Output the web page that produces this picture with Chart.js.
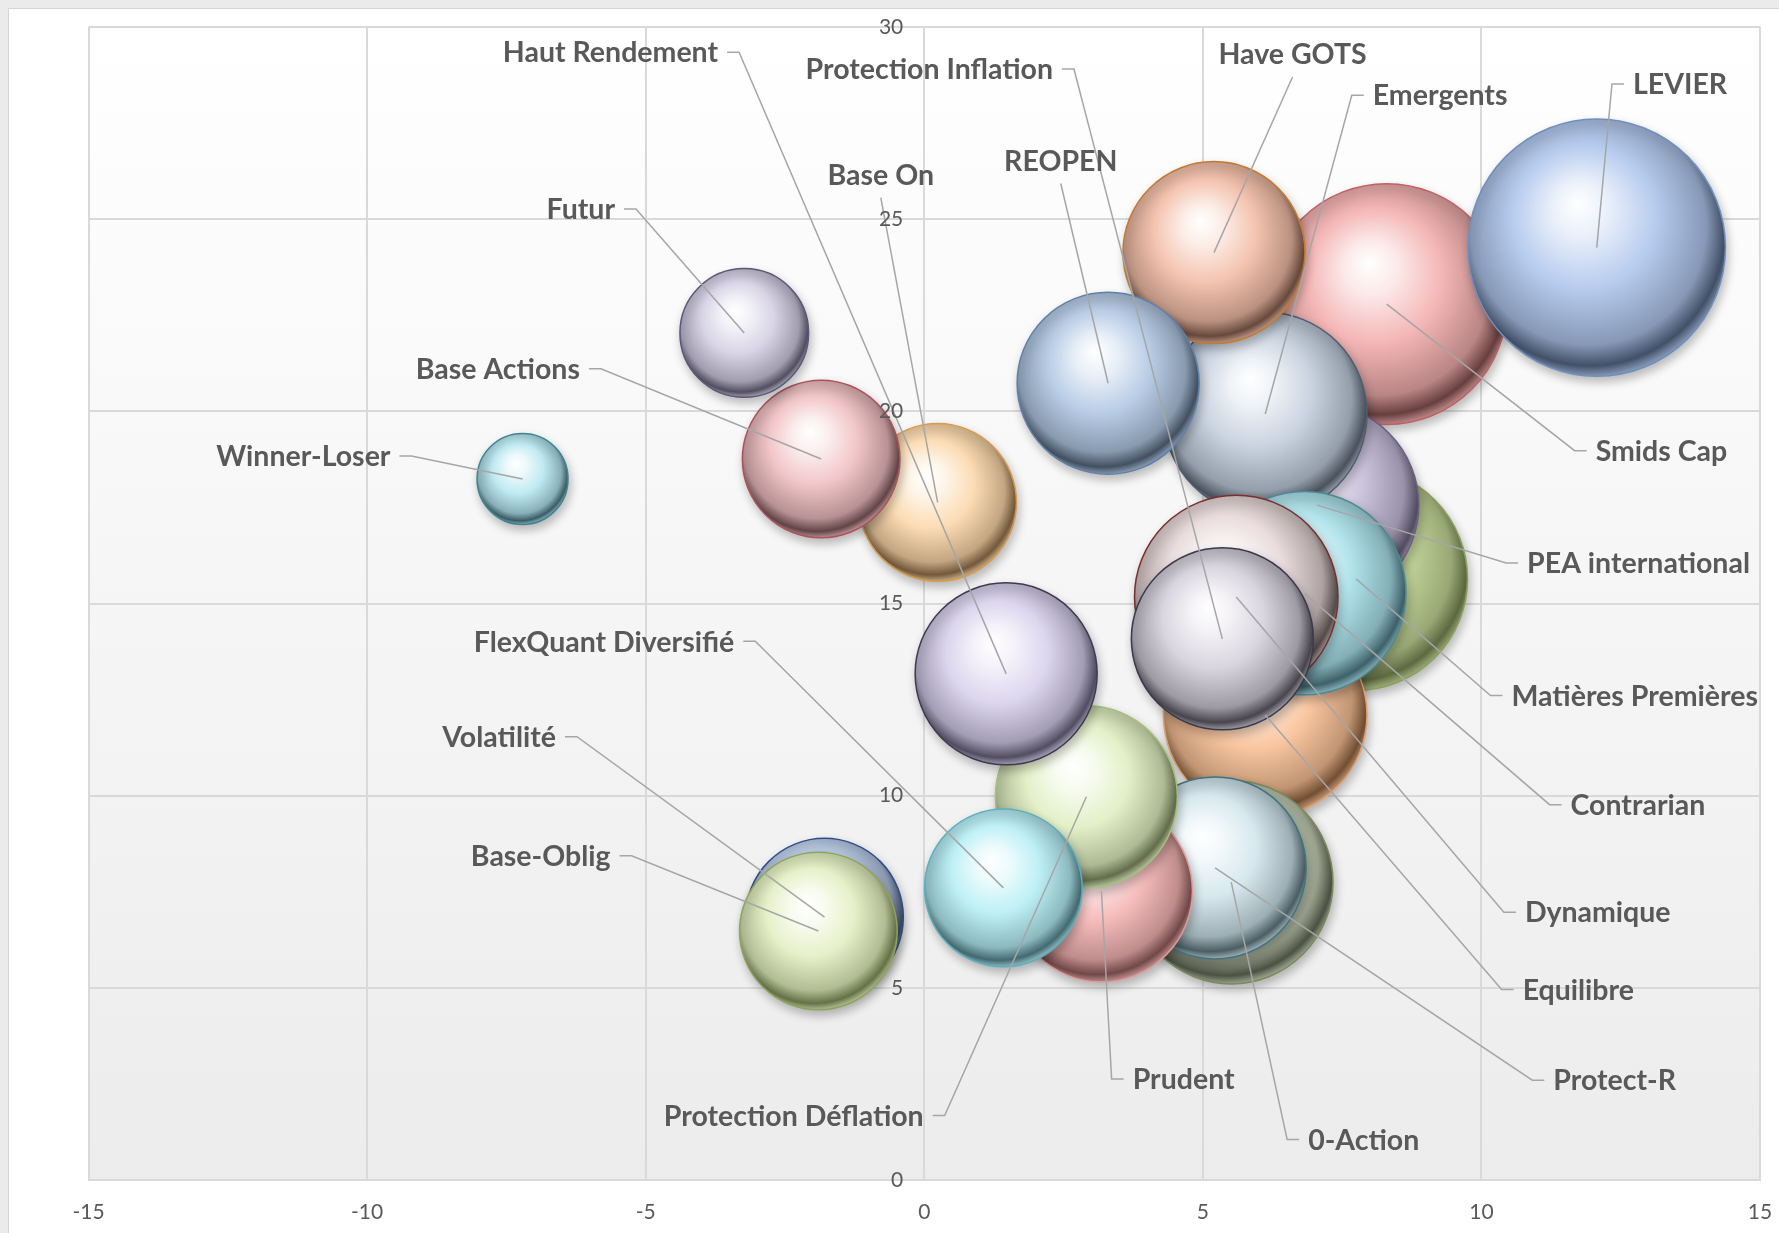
<!DOCTYPE html>
<html><head><meta charset="utf-8">
<script src="https://cdn.jsdelivr.net/npm/chart.js@4.4.1/dist/chart.umd.min.js"></script>
<style>
html,body{margin:0;padding:0;background:#fff;overflow:hidden}
canvas{display:block}
</style></head>
<body>
<canvas id="c" width="1779" height="1233"></canvas>
<script>
// ---------- DATA ----------
const names = ['Smids Cap','LEVIER','Matières Premières','PEA international','Emergents','Have GOTS','REOPEN',
  'Equilibre','Contrarian','Dynamique','Protection Inflation','0-Action','Protect-R','Prudent',
  'Protection Déflation','Haut Rendement','FlexQuant Diversifié','Base On','Base Actions','Futur',
  'Winner-Loser','Volatilité','Base-Oblig'];
const xValues = [8.30, 12.07, 7.75, 7.05, 6.12, 5.20, 3.30,
  6.12, 6.82, 5.60, 5.35, 5.51, 5.22, 3.18,
  2.91, 1.47, 1.42, 0.24, -1.85, -3.23,
  -7.21, -1.79, -1.90];
const yValues = [22.79, 24.26, 15.64, 17.56, 19.93, 24.13, 20.73,
  12.10, 15.27, 15.17, 14.08, 7.75, 8.12, 7.52,
  9.97, 13.17, 7.60, 17.63, 18.76, 22.04,
  18.24, 6.84, 6.48];
const bubbleSizes = [7, 8, 6, 5, 5, 4, 4,
  5, 5, 5, 4, 5, 4, 4,
  4, 4, 3, 3, 3, 2,
  1, 3, 3];
const xTicks = [-15, -10, -5, 0, 5, 10, 15];
const yTicks = [0, 5, 10, 15, 20, 25, 30];

// ---------- STYLE ----------
const BUBBLE_PX = 45.5;
const baseColors = ['#f4b6b6','#b6cbee','#c3d69b','#cbc2dc','#c9d3e0','#f4c4b0','#b9cde6',
  '#f9c6a0','#b2e4ec','#eadcdc','#d9d5df','#d3dcc4','#d6e8ee','#f6bcbc',
  '#e3f0c8','#dcd5ee','#bdf0f6','#fcdcb4','#f2c6c8','#d8d4e6',
  '#bfeaf2','#c6d6ee','#e6f0c8'];
const darkColors = ['#4e2a2a','#2d3a4f','#4b5630','#3f3a4c','#323b46','#4e3327','#2e3a4a',
  '#5a3a20','#2b4a52','#3d3232','#2e2c36','#343a2c','#33464c','#5a3434',
  '#4c5636','#3a3648','#2f5258','#5a4226','#4a2e30','#3a384a',
  '#24454c','#26324a','#4e5a30'];
const borderColors = ['#c06060','#6f8fc0','#8aa05a','#6c5f87','#4f5d70','#c47a2e','#5f80ad',
  '#e0a070','#4d8a96','#7b2e2e','#3b3a4d','#7a8a5a','#3c7482','#e29a9a',
  '#a6bf7a','#3d3a52','#5ab0c0','#d99a4a','#b0505a','#585878',
  '#3d8596','#2f4f8a','#8ea458'];

// label placement (in chart value coordinates) : name, x, y, side of text
const labelLayout = [
  ['Haut Rendement', -3.70, 29.32, 'right'],
  ['Protection Inflation', 2.31, 28.88, 'right'],
  ['Futur', -5.55, 25.24, 'right'],
  ['Base Actions', -6.18, 21.08, 'right'],
  ['Winner-Loser', -9.58, 18.81, 'right'],
  ['FlexQuant Diversifié', -3.41, 13.99, 'right'],
  ['Volatilité', -6.61, 11.51, 'right'],
  ['Base-Oblig', -5.63, 8.41, 'right'],
  ['Protection Déflation', -0.01, 1.65, 'right'],
  ['LEVIER', 12.72, 28.49, 'left'],
  ['Emergents', 8.05, 28.20, 'left'],
  ['Smids Cap', 12.05, 18.95, 'left'],
  ['PEA international', 10.82, 16.03, 'left'],
  ['Matières Premières', 10.54, 12.58, 'left'],
  ['Contrarian', 11.60, 9.74, 'left'],
  ['Dynamique', 10.78, 6.94, 'left'],
  ['Equilibre', 10.74, 4.93, 'left'],
  ['Protect-R', 11.29, 2.57, 'left'],
  ['Prudent', 3.74, 2.60, 'left'],
  ['0-Action', 6.89, 1.03, 'left'],
  ['Have GOTS', 6.61, 29.27, 'center'],
  ['REOPEN', 2.45, 26.50, 'center'],
  ['Base On', -0.78, 26.13, 'center']
];

// desired plot rectangle in the 1779x1233 page
const targetArea = {left: 88.5, top: 27, right: 1760, bottom: 1180};

function hexToRgb(h){h=h.replace('#','');return [parseInt(h.substr(0,2),16),parseInt(h.substr(2,2),16),parseInt(h.substr(4,2),16)];}
function mix(a,b,t){const A=hexToRgb(a),B=hexToRgb(b);return 'rgb('+A.map((v,k)=>Math.round(v+(B[k]-v)*t)).join(',')+')';}

function sphereFill(c){
  const i = c.dataIndex, chart = c.chart;
  if (i === undefined || !chart.chartArea || !chart.scales.x) return baseColors[i] || '#ccc';
  const x = chart.scales.x.getPixelForValue(xValues[i]);
  const y = chart.scales.y.getPixelForValue(yValues[i]);
  const r = BUBBLE_PX * Math.sqrt(bubbleSizes[i]);
  const base = baseColors[i], dark = darkColors[i];
  const g = chart.ctx.createRadialGradient(x - 0.15*r, y - 0.35*r, 0, x - 0.05*r, y - 0.12*r, 1.12*r);
  g.addColorStop(0, '#ffffff');
  g.addColorStop(0.2, mix('#ffffff', base, 0.3));
  g.addColorStop(0.5, base);
  g.addColorStop(0.82, mix(base, dark, 0.35));
  g.addColorStop(0.94, mix(base, dark, 0.85));
  g.addColorStop(1, mix(base, dark, 0.35));
  return g;
}

const framePlugin = {
  id: 'frame',
  beforeDraw(chart){
    const ctx = chart.ctx, a = chart.chartArea;
    ctx.save();
    ctx.fillStyle = '#ebebeb';
    ctx.fillRect(0, 0, chart.width, chart.height);
    ctx.fillStyle = '#ffffff';
    ctx.fillRect(8, 8, chart.width, chart.height);
    ctx.strokeStyle = '#d4d4d4'; ctx.lineWidth = 1;
    ctx.strokeRect(8.5, 8.5, chart.width + 10, chart.height + 10);
    const g = ctx.createLinearGradient(0, a.top, 0, a.bottom);
    g.addColorStop(0, '#ffffff');
    g.addColorStop(1, '#ececec');
    ctx.fillStyle = g;
    ctx.fillRect(a.left, a.top, a.right - a.left, a.bottom - a.top);
    ctx.restore();
  }
};

const labelPlugin = {
  id: 'bubbleLabels',
  beforeDatasetsDraw(chart){
    const ctx = chart.ctx;
    ctx.save();
    ctx.shadowColor = 'rgba(0,0,0,0.25)';
    ctx.shadowBlur = 10;
    ctx.shadowOffsetX = 2;
    ctx.shadowOffsetY = 5;
  },
  afterDatasetsDraw(chart){
    const ctx = chart.ctx;
    ctx.restore();
    const meta = chart.getDatasetMeta(0);
    const sx = chart.scales.x, sy = chart.scales.y;
    const GAP = 9, STUB = 12;
    ctx.save();
    ctx.font = 'bold 28.5px Lato';
    ctx.textBaseline = 'middle';
    labelLayout.forEach(([name, lx, ly, side]) => {
      const idx = names.indexOf(name);
      const el = meta.data[idx];
      const cx = el.x, cy = el.y;
      const ax = sx.getPixelForValue(lx), ay = sy.getPixelForValue(ly);
      ctx.strokeStyle = '#a6a6a6'; ctx.lineWidth = 1.5;
      ctx.beginPath();
      if (side === 'right') {
        ctx.moveTo(ax + GAP, ay - 1); ctx.lineTo(ax + GAP + STUB, ay - 1); ctx.lineTo(cx, cy);
      } else if (side === 'left') {
        ctx.moveTo(ax - GAP, ay - 1); ctx.lineTo(ax - GAP - STUB, ay - 1); ctx.lineTo(cx, cy);
      } else {
        ctx.moveTo(ax, ay + 22); ctx.lineTo(cx, cy);
      }
      ctx.stroke();
      ctx.fillStyle = '#595959';
      ctx.textAlign = side;
      ctx.fillText(name, ax, ay);
    });
    ctx.restore();
  }
};

const pad = {left: 88.5, top: 27, right: 19, bottom: -8};

const data = {
  datasets: [{
    label: 'Fonds',
    data: names.map((n, i) => ({x: xValues[i], y: yValues[i], r: BUBBLE_PX * Math.sqrt(bubbleSizes[i])})),
    backgroundColor: sphereFill,
    borderColor: (c) => borderColors[c.dataIndex] || '#888',
    borderWidth: 1.5,
    clip: false
  }]
};

const chart = new Chart(document.getElementById('c'), {
  type: 'bubble',
  data,
  plugins: [framePlugin, labelPlugin],
  options: {
    responsive: false,
    animation: false,
    events: [],
    devicePixelRatio: 1,
    layout: {padding: pad, autoPadding: false},
    plugins: {legend: {display: false}, tooltip: {enabled: false}},
    scales: {
      x: {
        type: 'linear', position: 'bottom', min: xTicks[0], max: xTicks[xTicks.length-1],
        afterBuildTicks: (s) => { s.ticks = xTicks.map(v => ({value: v})); },
        grid: {color: '#d9d9d9', lineWidth: 2, drawTicks: false},
        border: {display: true, color: '#d9d9d9', width: 2},
        ticks: {padding: 3, color: '#595959', font: {family: 'Lato', size: 21, lineHeight: 2.76}, callback: (v) => String(v)}
      },
      y: {
        type: 'linear', position: {x: 0}, min: yTicks[0], max: yTicks[yTicks.length-1],
        afterBuildTicks: (s) => { s.ticks = yTicks.map(v => ({value: v})); },
        grid: {color: '#d9d9d9', lineWidth: 2, drawTicks: false},
        border: {display: true, color: '#d9d9d9', width: 2},
        ticks: {z: 1, color: '#595959', font: {family: 'Lato', size: 21}, callback: (v) => String(v) + '\u2002\u2002'}
      }
    }
  }
});

// adjust padding so the plot rectangle lands where the original has it
for (let k = 0; k < 8; k++) {
  const a = chart.chartArea;
  const dl = targetArea.left - a.left, dt = targetArea.top - a.top;
  const dr = a.right - targetArea.right, db = a.bottom - targetArea.bottom;
  if (Math.abs(dl) + Math.abs(dt) + Math.abs(dr) + Math.abs(db) < 0.5) break;
  pad.left += dl; pad.top += dt; pad.right += dr; pad.bottom += db;
  chart.update();
}
</script>
</body></html>
